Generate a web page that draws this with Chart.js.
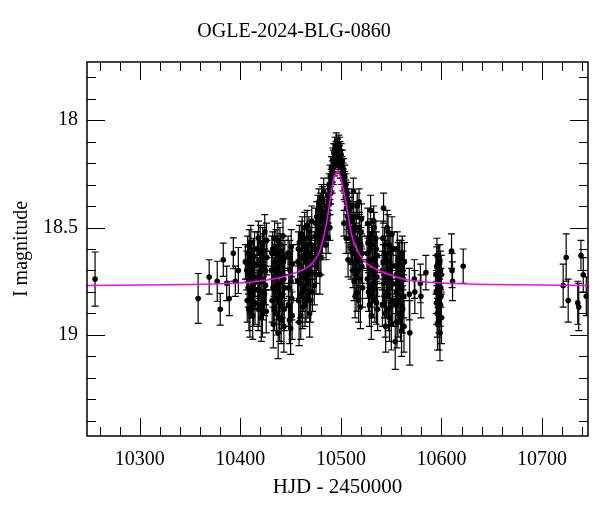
<!DOCTYPE html>
<html>
<head>
<meta charset="utf-8">
<script src="https://cdn.jsdelivr.net/npm/chart.js@4.4.1/dist/chart.umd.min.js"></script>
<style>
  body { margin: 0; background: #fff; }
  canvas { display: block; }
</style>
</head>
<body>
<canvas id="lc" width="600" height="512"></canvas>
<script>
const hjd = [
  10255.5, 10358.0, 10369.0, 10377.0, 10380.0, 10383.0, 10386.4, 10389.0, 10393.0, 10395.0, 10398.0, 10405.0,
  10406.5, 10407.2, 10407.9, 10408.5, 10409.1, 10409.8, 10410.4, 10411.0, 10411.7, 10412.3, 10412.9, 10413.5, 10414.1, 10414.6, 10408.0, 10410.0,
  10416.6, 10417.3, 10418.0, 10418.7, 10419.4, 10420.1, 10420.8, 10421.5, 10422.2, 10422.9, 10423.6, 10424.3, 10425.0, 10425.7, 10426.3, 10419.0,
  10431.0, 10431.6, 10432.2, 10432.8, 10433.4, 10434.0, 10434.6, 10435.2, 10435.8, 10436.4, 10437.0, 10437.6, 10438.2, 10438.8, 10439.4, 10440.0, 10440.6, 10441.2, 10441.8, 10442.4, 10443.0, 10443.6, 10444.2,
  10447.5, 10448.2, 10448.8, 10449.4, 10450.0, 10450.6, 10451.2, 10451.8,
  10457.0, 10457.7, 10458.4, 10459.1, 10459.8, 10460.5, 10461.2, 10461.9, 10462.6, 10463.3, 10464.0, 10464.7, 10465.4, 10466.1, 10466.8, 10467.5, 10468.2, 10468.9, 10469.6, 10470.3, 10471.0, 10471.7,
  10473.5, 10474.2, 10474.9, 10475.6, 10476.3, 10477.0, 10477.7, 10478.4, 10479.1, 10479.8, 10480.5, 10481.2, 10481.9, 10482.6, 10483.3,
  10484.0, 10484.6, 10485.2, 10485.8, 10486.4, 10487.0, 10487.6, 10488.2, 10488.8, 10489.4, 10490.0, 10490.6, 10491.2, 10491.8, 10492.4, 10493.0, 10493.6, 10494.2, 10494.8, 10487.3,
  10495.4, 10496.0, 10496.6, 10497.2, 10497.8, 10498.4, 10499.0, 10499.6, 10500.2, 10500.8, 10501.4, 10502.0, 10502.6, 10503.2, 10503.8, 10504.4, 10505.0, 10505.6, 10506.2, 10506.8, 10507.4, 10508.0, 10508.6, 10509.2, 10509.8, 10510.4,
  10489.0, 10503.0, 10505.3, 10507.1,
  10511.0, 10511.7, 10512.4, 10513.1, 10513.8, 10514.5, 10515.2, 10515.9, 10516.6, 10517.3, 10518.0, 10518.7, 10519.4, 10520.1, 10520.8, 10521.5,
  10526.0, 10526.7, 10527.4, 10528.1, 10528.8, 10529.5, 10530.2, 10530.9, 10531.6, 10532.3, 10533.0, 10533.7, 10534.4, 10535.1, 10535.8, 10536.5,
  10541.0, 10541.7, 10542.4, 10543.1, 10543.8, 10544.5, 10545.2, 10545.9, 10546.6, 10547.3, 10548.0, 10548.7, 10549.4, 10550.1, 10550.8, 10551.5,
  10554.0, 10554.7, 10555.4, 10556.1, 10556.8, 10557.5, 10558.2, 10558.9, 10559.6, 10560.3, 10561.0, 10561.7, 10562.4, 10563.1,
  10568.0, 10568.5, 10573.0, 10573.5, 10579.0, 10579.5, 10584.5,
  10594.5, 10595.0, 10595.5, 10596.0, 10596.5, 10597.0, 10597.5, 10598.0, 10598.5, 10599.0, 10599.5, 10600.0,
  10610.0, 10610.5, 10611.0, 10621.6,
  10721.0, 10724.0, 10726.0, 10735.5, 10736.5, 10738.7, 10741.0, 10744.0,
  // segunda pasada por los grupos densos
  10406.8, 10407.5, 10408.8, 10409.5, 10410.7, 10411.4, 10412.0, 10413.2, 10413.8, 10414.4,
  10416.9, 10417.7, 10418.4, 10419.8, 10420.5, 10421.2, 10421.9, 10423.2, 10424.0, 10424.7, 10426.0,
  10431.3, 10432.5, 10433.7, 10434.3, 10435.5, 10436.1, 10436.7, 10437.3, 10437.9, 10438.5, 10439.1, 10439.7, 10440.3, 10441.5, 10442.1, 10442.7, 10443.3, 10443.9,
  10447.8, 10449.1, 10450.3, 10451.5,
  10457.3, 10458.0, 10458.7, 10459.4, 10460.1, 10460.8, 10461.5, 10462.2, 10462.9, 10463.6, 10464.3, 10465.0, 10465.7, 10466.4, 10467.1, 10467.8, 10468.5, 10469.2, 10469.9, 10470.6, 10471.3,
  10473.8, 10474.5, 10475.2, 10475.9, 10476.6, 10477.3, 10478.0, 10478.7, 10479.4, 10480.1, 10480.8, 10481.5, 10482.2, 10482.9, 10483.6,
  10485.5, 10486.7, 10487.9, 10489.1, 10490.3, 10491.5, 10492.7, 10493.9, 10495.1, 10496.3, 10497.5, 10498.7, 10499.9, 10501.1, 10502.3, 10503.5, 10504.7, 10505.9, 10507.1, 10508.3, 10509.5, 10510.1,
  10511.3, 10512.0, 10512.7, 10513.4, 10514.1, 10514.8, 10515.5, 10516.2, 10516.9, 10517.6, 10518.3, 10519.0, 10519.7, 10520.4, 10521.1,
  10526.3, 10527.0, 10527.7, 10528.4, 10529.1, 10529.8, 10530.5, 10531.2, 10531.9, 10532.6, 10533.3, 10534.0, 10534.7, 10535.4, 10536.1,
  10541.3, 10542.0, 10542.7, 10543.4, 10544.1, 10544.8, 10545.5, 10546.2, 10546.9, 10547.6, 10548.3, 10549.0, 10549.7, 10550.4, 10551.1, 10551.8,
  10554.3, 10555.0, 10555.7, 10556.4, 10557.1, 10557.8, 10558.5, 10559.2, 10559.9, 10560.6, 10561.3, 10562.0, 10562.7,
  10594.8, 10595.3, 10595.8, 10596.3, 10596.8, 10597.3, 10597.8, 10598.3, 10598.8, 10599.3, 10599.8
];
const iMag = [
  18.74, 18.83, 18.73, 18.75, 18.88, 18.65, 18.76, 18.83, 18.62, 18.75, 18.70, 18.66,
  18.70, 18.62, 18.78, 18.88, 18.66, 18.74, 18.57, 18.82, 18.69, 18.91, 18.63, 18.76, 18.60, 18.85, 18.72, 18.80,
  18.67, 18.79, 18.55, 18.86, 18.71, 18.62, 18.92, 18.75, 18.58, 18.83, 18.68, 18.52, 18.77, 18.89, 18.64, 18.74,
  18.70, 18.84, 18.60, 18.95, 18.73, 18.55, 18.80, 18.66, 18.90, 18.77, 18.62, 18.99, 18.71, 18.85, 18.58, 18.76, 18.93, 18.68, 18.82, 18.54, 18.74, 18.88, 18.64,
  18.62, 18.78, 18.93, 18.70, 18.97, 18.59, 18.83, 18.67,
  18.75, 18.60, 18.94, 18.68, 18.82, 18.55, 18.73, 18.87, 18.63, 18.78, 18.50, 18.70, 18.84, 18.58, 18.66, 18.76, 18.52, 18.90, 18.62, 18.71, 18.47, 18.80,
  18.77, 18.60, 18.48, 18.68, 18.55, 18.42, 18.63, 18.50, 18.72, 18.40, 18.57, 18.46, 18.37, 18.52, 18.43,
  18.52, 18.45, 18.58, 18.40, 18.48, 18.35, 18.44, 18.30, 18.39, 18.26, 18.34, 18.22, 18.29, 18.18, 18.25, 18.15, 18.21, 18.12, 18.18, 18.55,
  18.10, 18.16, 18.13, 18.20, 18.11, 18.17, 18.14, 18.22, 18.16, 18.25, 18.19, 18.28, 18.23, 18.32, 18.26, 18.36, 18.30, 18.41, 18.34, 18.45, 18.38, 18.50, 18.42, 18.55, 18.47, 18.60,
  18.50, 18.48, 18.55, 18.65,
  18.40, 18.62, 18.33, 18.75, 18.50, 18.66, 18.45, 18.80, 18.56, 18.70, 18.38, 18.60, 18.87, 18.52, 18.68, 18.78,
  18.62, 18.48, 18.80, 18.55, 18.70, 18.42, 18.91, 18.65, 18.58, 18.76, 18.50, 18.84, 18.68, 18.60, 18.73, 18.88,
  18.70, 18.55, 18.41, 18.82, 18.62, 18.96, 18.74, 18.50, 18.66, 18.88, 18.58, 18.78, 18.70, 18.95, 18.53, 18.84,
  19.03, 18.68, 18.80, 18.60, 18.90, 18.73, 18.64, 18.85, 18.76, 18.98, 18.62, 18.70, 18.82, 18.66,
  18.81, 18.99, 18.74, 18.80, 18.76, 18.82, 18.71,
  18.72, 18.85, 18.63, 18.95, 18.78, 18.66, 18.88, 18.74, 18.99, 18.70, 18.82, 18.92,
  18.61, 18.70, 18.75, 18.68,
  18.77, 18.64, 18.84, 18.85, 18.87, 18.63, 18.72, 18.82,
  18.84, 18.67, 18.59, 18.90, 18.71, 18.64, 18.79, 18.86, 18.68, 18.73,
  18.60, 18.88, 18.73, 18.57, 18.80, 18.66, 18.90, 18.61, 18.81, 18.70, 18.56,
  18.62, 18.78, 18.88, 18.69, 18.59, 18.83, 18.70, 18.56, 18.80, 18.64, 18.92, 18.72, 18.61, 18.87, 18.72, 18.66, 18.96, 18.78,
  18.86, 18.64, 18.75, 18.91,
  18.66, 18.84, 18.57, 18.76, 18.91, 18.64, 18.53, 18.80, 18.70, 18.59, 18.86, 18.62, 18.74, 18.49, 18.82, 18.64, 18.72, 18.55, 18.84, 18.58, 18.66,
  18.64, 18.54, 18.72, 18.45, 18.62, 18.52, 18.38, 18.58, 18.47, 18.64, 18.36, 18.55, 18.44, 18.33, 18.48,
  18.50, 18.42, 18.37, 18.32, 18.28, 18.24, 18.19, 18.16, 18.14, 18.12, 18.15, 18.12, 18.19, 18.22, 18.25, 18.29, 18.33, 18.38, 18.42, 18.46, 18.52, 18.66,
  18.52, 18.70, 18.45, 18.62, 18.82, 18.55, 18.72, 18.40, 18.64, 18.84, 18.50, 18.74, 18.58, 18.46, 18.62,
  18.74, 18.57, 18.66, 18.86, 18.60, 18.78, 18.53, 18.82, 18.70, 18.47, 18.64, 18.76, 18.55, 18.85, 18.63,
  18.86, 18.66, 18.76, 18.58, 18.90, 18.64, 18.82, 18.72, 18.52, 18.75, 18.92, 18.62, 18.84, 18.68, 18.76, 18.60,
  18.86, 18.72, 18.94, 18.76, 18.66, 18.84, 18.70, 18.92, 18.64, 18.78, 18.88, 18.74, 18.96,
  18.80, 18.68, 18.90, 18.72, 18.84, 18.76, 18.95, 18.66, 18.86, 18.78, 18.72
];
const iErr = [
  0.126, 0.116, 0.080, 0.093, 0.074, 0.077, 0.080, 0.080, 0.072, 0.070, 0.107, 0.080,
  0.09, 0.08, 0.09, 0.10, 0.08, 0.09, 0.08, 0.10, 0.08, 0.11, 0.08, 0.09, 0.08, 0.10, 0.09, 0.09,
  0.08, 0.09, 0.08, 0.10, 0.09, 0.08, 0.11, 0.09, 0.08, 0.10, 0.08, 0.08, 0.09, 0.10, 0.08, 0.09,
  0.09, 0.10, 0.08, 0.11, 0.09, 0.08, 0.09, 0.08, 0.10, 0.09, 0.08, 0.12, 0.09, 0.10, 0.08, 0.09, 0.11, 0.08, 0.10, 0.08, 0.09, 0.10, 0.08,
  0.08, 0.09, 0.11, 0.09, 0.12, 0.08, 0.10, 0.09,
  0.09, 0.08, 0.11, 0.08, 0.10, 0.08, 0.09, 0.10, 0.08, 0.09, 0.07, 0.09, 0.10, 0.08, 0.08, 0.09, 0.07, 0.11, 0.08, 0.09, 0.07, 0.09,
  0.09, 0.08, 0.07, 0.08, 0.07, 0.07, 0.08, 0.07, 0.09, 0.06, 0.07, 0.07, 0.06, 0.07, 0.06,
  0.06, 0.06, 0.07, 0.06, 0.06, 0.05, 0.06, 0.05, 0.05, 0.05, 0.05, 0.05, 0.05, 0.05, 0.05, 0.04, 0.05, 0.04, 0.05, 0.07,
  0.04, 0.04, 0.04, 0.05, 0.04, 0.05, 0.04, 0.05, 0.05, 0.05, 0.05, 0.05, 0.05, 0.05, 0.05, 0.06, 0.05, 0.06, 0.05, 0.06, 0.06, 0.06, 0.06, 0.07, 0.06, 0.07,
  0.06, 0.06, 0.07, 0.08,
  0.06, 0.08, 0.06, 0.09, 0.07, 0.08, 0.07, 0.09, 0.07, 0.08, 0.06, 0.08, 0.10, 0.07, 0.08, 0.09,
  0.08, 0.07, 0.09, 0.07, 0.08, 0.07, 0.11, 0.08, 0.08, 0.09, 0.07, 0.10, 0.08, 0.08, 0.09, 0.10,
  0.09, 0.08, 0.07, 0.10, 0.08, 0.12, 0.09, 0.08, 0.08, 0.10, 0.08, 0.09, 0.09, 0.12, 0.08, 0.10,
  0.13, 0.09, 0.10, 0.08, 0.11, 0.09, 0.08, 0.10, 0.09, 0.12, 0.08, 0.09, 0.10, 0.09,
  0.12, 0.15, 0.09, 0.10, 0.09, 0.10, 0.08,
  0.09, 0.10, 0.08, 0.12, 0.09, 0.08, 0.11, 0.09, 0.13, 0.09, 0.10, 0.12,
  0.08, 0.08, 0.09, 0.08,
  0.10, 0.11, 0.10, 0.10, 0.11, 0.07, 0.08, 0.09,
  0.10, 0.08, 0.08, 0.11, 0.09, 0.08, 0.09, 0.10, 0.08, 0.09,
  0.08, 0.10, 0.09, 0.08, 0.09, 0.08, 0.11, 0.08, 0.10, 0.09, 0.08,
  0.08, 0.09, 0.10, 0.08, 0.08, 0.10, 0.09, 0.08, 0.09, 0.08, 0.11, 0.09, 0.08, 0.10, 0.09, 0.08, 0.12, 0.09,
  0.10, 0.08, 0.09, 0.11,
  0.08, 0.10, 0.08, 0.09, 0.11, 0.08, 0.08, 0.09, 0.09, 0.08, 0.10, 0.08, 0.09, 0.07, 0.10, 0.08, 0.09, 0.08, 0.10, 0.08, 0.08,
  0.08, 0.07, 0.09, 0.07, 0.08, 0.07, 0.06, 0.07, 0.07, 0.08, 0.06, 0.07, 0.06, 0.06, 0.06,
  0.06, 0.06, 0.05, 0.05, 0.05, 0.05, 0.05, 0.05, 0.04, 0.04, 0.04, 0.04, 0.05, 0.05, 0.05, 0.05, 0.05, 0.06, 0.06, 0.06, 0.07, 0.08,
  0.07, 0.08, 0.07, 0.08, 0.10, 0.07, 0.09, 0.06, 0.08, 0.10, 0.07, 0.09, 0.08, 0.07, 0.08,
  0.09, 0.08, 0.08, 0.10, 0.08, 0.09, 0.07, 0.10, 0.09, 0.07, 0.08, 0.09, 0.08, 0.10, 0.08,
  0.10, 0.08, 0.09, 0.08, 0.11, 0.08, 0.10, 0.09, 0.08, 0.09, 0.11, 0.08, 0.10, 0.09, 0.09, 0.08,
  0.10, 0.09, 0.12, 0.09, 0.09, 0.10, 0.09, 0.11, 0.08, 0.09, 0.11, 0.09, 0.12,
  0.10, 0.09, 0.11, 0.09, 0.10, 0.09, 0.12, 0.08, 0.10, 0.09, 0.09
];

// Curva del modelo (magenta)
const modelHjd = [10247, 10300, 10350, 10380, 10406, 10425, 10440, 10455, 10465, 10472, 10478, 10482, 10486, 10489, 10492,
  10494, 10496.5, 10499, 10501, 10504, 10507, 10510, 10513, 10518, 10525, 10538, 10555, 10572, 10600, 10650, 10700, 10746];
const modelMag = [18.770, 18.768, 18.765, 18.762, 18.756, 18.745, 18.733, 18.71, 18.69, 18.664, 18.62, 18.56, 18.47, 18.38, 18.29,
  18.255, 18.24, 18.255, 18.29, 18.36, 18.44, 18.52, 18.57, 18.62, 18.664, 18.70, 18.73, 18.748, 18.758, 18.765, 18.768, 18.77];

// Marcas de los ejes
const xMajorTicks = [10300, 10400, 10500, 10600, 10700];
const xMinorTicks = [10260, 10280, 10320, 10340, 10360, 10380, 10420, 10440, 10460, 10480, 10520, 10540, 10560, 10580,
  10620, 10640, 10660, 10680, 10720, 10740];
const yMajorTicks = [18, 18.5, 19];
const yMinorTicks = [17.8, 17.9, 18.1, 18.2, 18.3, 18.4, 18.6, 18.7, 18.8, 18.9, 19.1, 19.2, 19.3, 19.4];

const fuente = 'Liberation Serif';

const puntos = hjd.map((x, i) => ({ x: x, y: iMag[i], e: iErr[i] }));
const modelo = modelHjd.map((x, i) => ({ x: x, y: modelMag[i] }));

// Barras de error, debajo de los puntos
const barrasError = {
  id: 'barrasError',
  beforeDatasetsDraw(chart) {
    const ctx = chart.ctx;
    const sx = chart.scales.x, sy = chart.scales.y, a = chart.chartArea;
    ctx.save();
    ctx.beginPath();
    ctx.rect(a.left, a.top, a.right - a.left, a.bottom - a.top);
    ctx.clip();
    ctx.strokeStyle = '#000';
    ctx.lineWidth = 1.2;
    puntos.forEach(p => {
      const px = sx.getPixelForValue(p.x);
      const y1 = sy.getPixelForValue(p.y - p.e);
      const y2 = sy.getPixelForValue(p.y + p.e);
      ctx.beginPath();
      ctx.moveTo(px, y1); ctx.lineTo(px, y2);
      ctx.moveTo(px - 3.5, y1); ctx.lineTo(px + 3.5, y1);
      ctx.moveTo(px - 3.5, y2); ctx.lineTo(px + 3.5, y2);
      ctx.stroke();
    });
    ctx.restore();
  }
};

// Marco con marcas hacia dentro en los cuatro lados
const marco = {
  id: 'marco',
  afterDraw(chart) {
    const ctx = chart.ctx;
    const sx = chart.scales.x, sy = chart.scales.y, a = chart.chartArea;
    ctx.save();
    ctx.strokeStyle = '#000';
    ctx.lineWidth = 1;
    const marcaX = (v, len) => {
      const px = Math.round(sx.getPixelForValue(v)) + 0.5;
      ctx.moveTo(px, a.bottom); ctx.lineTo(px, a.bottom - len);
      ctx.moveTo(px, a.top); ctx.lineTo(px, a.top + len);
    };
    const marcaY = (v, len) => {
      const py = Math.round(sy.getPixelForValue(v)) + 0.5;
      ctx.moveTo(a.left, py); ctx.lineTo(a.left + len, py);
      ctx.moveTo(a.right, py); ctx.lineTo(a.right - len, py);
    };
    ctx.beginPath();
    xMajorTicks.forEach(v => marcaX(v, 18));
    xMinorTicks.forEach(v => marcaX(v, 9));
    yMajorTicks.forEach(v => marcaY(v, 18));
    yMinorTicks.forEach(v => marcaY(v, 9));
    ctx.stroke();
    ctx.lineWidth = 1.5;
    ctx.strokeRect(a.left, a.top, a.right - a.left, a.bottom - a.top);
    ctx.restore();
  }
};

new Chart(document.getElementById('lc'), {
  type: 'scatter',
  data: {
    datasets: [
      {
        label: 'modelo',
        data: modelo,
        showLine: true,
        borderColor: '#ff00ff',
        borderWidth: 1.5,
        pointRadius: 0,
        tension: 0.3,
        fill: false,
        order: 0
      },
      {
        label: 'OGLE',
        data: puntos,
        pointRadius: 2.8,
        pointBackgroundColor: '#000',
        pointBorderWidth: 0,
        order: 1
      }
    ]
  },
  options: {
    responsive: false,
    animation: false,
    layout: { padding: { left: 0, right: 12, top: 0, bottom: 0 } },
    plugins: {
      legend: { display: false },
      tooltip: { enabled: false },
      title: {
        display: true,
        text: 'OGLE-2024-BLG-0860',
        color: '#000',
        font: { family: fuente, size: 20, weight: 'normal' },
        padding: { top: 20, bottom: 18 }
      }
    },
    scales: {
      x: {
        type: 'linear',
        min: 10247.5,
        max: 10745.7,
        grid: { display: false, drawTicks: false },
        border: { display: false },
        afterFit: s => { s.height = 76; },
        afterBuildTicks: s => { s.ticks = xMajorTicks.map(v => ({ value: v })); },
        ticks: {
          color: '#000',
          padding: 12,
          maxRotation: 0,
          font: { family: fuente, size: 20 },
          callback: v => String(v)
        },
        title: {
          display: true,
          text: 'HJD - 2450000',
          color: '#000',
          font: { family: fuente, size: 21 },
          padding: { top: 0, bottom: 12 }
        }
      },
      y: {
        type: 'linear',
        reverse: true,
        min: 17.73,
        max: 19.47,
        grid: { display: false, drawTicks: false },
        border: { display: false },
        afterFit: s => { s.width = 87; },
        afterBuildTicks: s => { s.ticks = yMajorTicks.map(v => ({ value: v })); },
        ticks: {
          color: '#000',
          padding: 9,
          font: { family: fuente, size: 20 },
          callback: v => String(v)
        },
        title: {
          display: true,
          text: 'I magnitude',
          color: '#000',
          font: { family: fuente, size: 20 },
          padding: { top: 10, bottom: 0 }
        }
      }
    }
  },
  plugins: [barrasError, marco]
});
</script>
</body>
</html>
